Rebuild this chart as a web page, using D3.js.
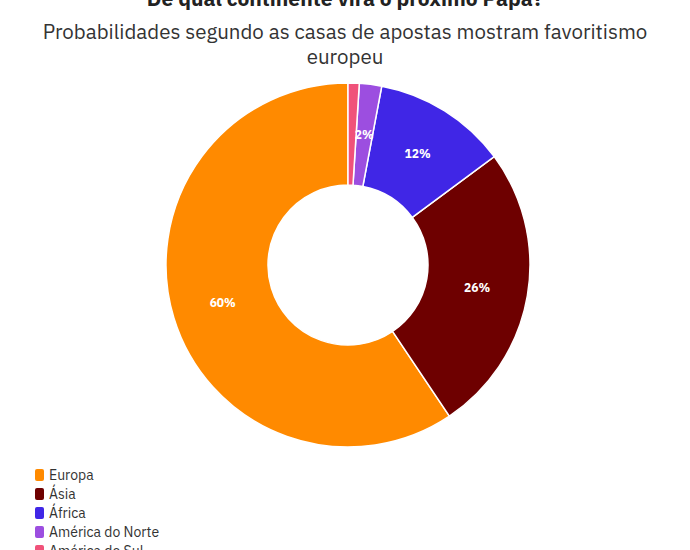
<!DOCTYPE html>
<html><head><meta charset="utf-8">
<script src="https://cdn.jsdelivr.net/npm/d3@7"></script>
<style>body{margin:0;background:#fff;font-family:"IBM Plex Sans","Noto Sans",sans-serif;}</style>
</head><body><svg id="c" width="690" height="550"></svg>
<script>
var categories = ["Europa", "Ásia", "África", "América do Norte", "América do Sul"];
var values = [60, 26, 12, 2, 1];
var colors = ["#ff8a00", "#6e0000", "#4026e6", "#9c4ee0", "#f0527a"];

var svg = d3.select("#c");
svg.append("text").attr("x", 345).attr("y", 6).attr("text-anchor", "middle")
  .attr("font-size", 21).attr("font-weight", "bold").attr("fill", "#222")
  .text("De qual continente virá o próximo Papa?");
svg.append("text").attr("x", 345).attr("y", 39).attr("text-anchor", "middle")
  .attr("font-size", 20.5).attr("fill", "#333")
  .text("Probabilidades segundo as casas de apostas mostram favoritismo");
svg.append("text").attr("x", 345).attr("y", 64).attr("text-anchor", "middle")
  .attr("font-size", 20.5).attr("fill", "#333").text("europeu");

var pie = d3.pie().sort(null).startAngle(0).endAngle(-2 * Math.PI);
var arcs = pie(values);
var arc = d3.arc().innerRadius(80).outerRadius(182);
var labelArc = d3.arc().innerRadius(131).outerRadius(131);
var g = svg.append("g").attr("transform", "translate(348,265)");
g.selectAll("path").data(arcs).join("path")
  .attr("d", arc).attr("fill", function (d, i) { return colors[i]; })
  .attr("stroke", "#fff").attr("stroke-width", 1.5);
g.selectAll("text").data(arcs.filter(function (d) { return d.data >= 2; })).join("text")
  .attr("transform", function (d) { return "translate(" + labelArc.centroid(d) + ")"; })
  .attr("text-anchor", "middle").attr("dy", "0.35em")
  .attr("font-size", 12).attr("font-weight", "bold").attr("fill", "#fff")
  .text(function (d) { return d.data + "%"; });

var leg = svg.append("g").selectAll("g").data(categories).join("g")
  .attr("transform", function (d, i) { return "translate(35," + (475 + i * 19) + ")"; });
leg.append("rect").attr("x", 0).attr("y", -6).attr("width", 9).attr("height", 12).attr("rx", 2)
  .attr("fill", function (d, i) { return colors[i]; });
leg.append("text").attr("x", 14).attr("dy", "0.35em").attr("font-size", 14).attr("fill", "#333")
  .text(function (d) { return d; });
</script></body></html>
